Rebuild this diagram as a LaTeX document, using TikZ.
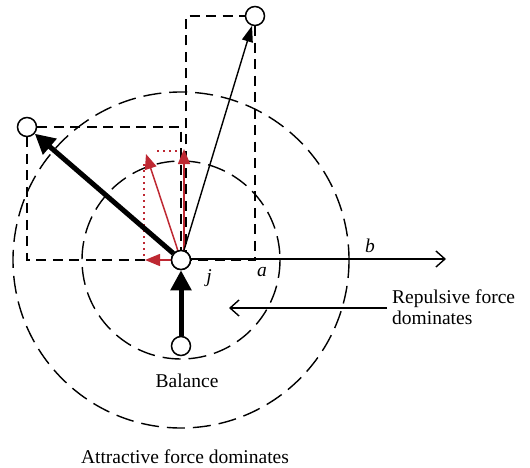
\documentclass[tikz,border=0pt]{standalone}
\usepackage{fontspec}
\setmainfont{Liberation Serif}
\usetikzlibrary{arrows.meta}
\begin{document}
\begin{tikzpicture}[x=1pt,y=-1pt,
  pt/.style={circle,draw,fill=white,line width=1.5pt,minimum size=19pt,inner sep=0pt},
  dsh/.style={dash pattern=on 10pt off 6.5pt,line width=1.4pt},
  cdsh/.style={dash pattern=on 18pt off 8pt,line width=1.4pt},
  thinarr/.style={line width=1.4pt,-{Triangle[length=16pt,width=11pt]}},
  thickarr/.style={line width=5pt,-{Triangle[length=20pt,width=20pt]}},
  redarr/.style={draw={rgb,255:red,190;green,40;blue,50},line width=1.5pt,-{Triangle[length=15pt,width=12pt]}},
  reddot/.style={draw={rgb,255:red,190;green,40;blue,50},line width=1.5pt,dash pattern=on 2pt off 4pt},
  lbl/.style={font=\fontsize{19.5}{21}\selectfont,inner sep=0pt}]
\useasboundingbox (0,0) rectangle (530,468);
% circles
\draw[cdsh] (181,260) circle[radius=99];
\draw[cdsh] (181,260) circle[radius=168];
% coordinates
\coordinate (ttl) at (186,16);
\coordinate (tbl) at (186,260);
\coordinate (tbr) at (255,260);
\coordinate (ltr) at (181,127);
\coordinate (lbl0) at (27,260);
\coordinate (ax) at (446,259);
\coordinate (rv) at (184,149);
\coordinate (rs) at (146,154);
\coordinate (rl) at (145,260);
\coordinate (dt1) at (157,151);
\coordinate (dt2) at (181,151);
\coordinate (dv1) at (144,164);
\coordinate (dv2) at (144,258);
\coordinate (rep1) at (387,308);
\coordinate (rep2) at (229,308);
% nodes
\node[pt] (C) at (181,260) {};
\node[pt] (T) at (255,16) {};
\node[pt] (L) at (27,127) {};
\node[pt] (B) at (181,346) {};
% dashed rectangles
\draw[dsh] (tbl) -- (ttl) -- (T);
\draw[dsh] (T) -- (tbr) -- (C);
\draw[dsh] (L) -- (ltr) -- (C);
\draw[dsh] (L) -- (lbl0) -- (C);
% axis
\draw[line width=1.4pt,-{Straight Barb[length=9pt,width=16pt]}] (C.east) ++(0,-1) -- (ax);
% red
\draw[reddot] (dt1) -- (dt2);
\draw[reddot] (dv1) -- (dv2);
\draw[redarr] (C.center) ++(3,0) -- (rv);
\draw[redarr] (C.center) -- (rs);
\draw[redarr] (C.center) -- (rl);
% black arrows
\draw[thinarr] (C) -- (T);
\draw[thickarr] (C) -- (L);
\draw[thickarr] (B) -- (C);
\node[pt] at (C) {};
% repulsive arrow
\draw[line width=1.4pt,-{Straight Barb[length=9pt,width=16pt]}] (rep1) -- (rep2);
% labels
\node[lbl] (b) at (370,246) {\itshape b};
\node[lbl] (a) at (262,272) {\itshape a};
\node[lbl] (j) at (209,278) {\itshape j};
\node[lbl,align=left,anchor=west] (rep) at (392,307) {Repulsive force\\dominates};
\node[lbl] (bal) at (187,381) {Balance};
\node[lbl] (att) at (185,457) {Attractive force dominates};
\end{tikzpicture}
\end{document}
